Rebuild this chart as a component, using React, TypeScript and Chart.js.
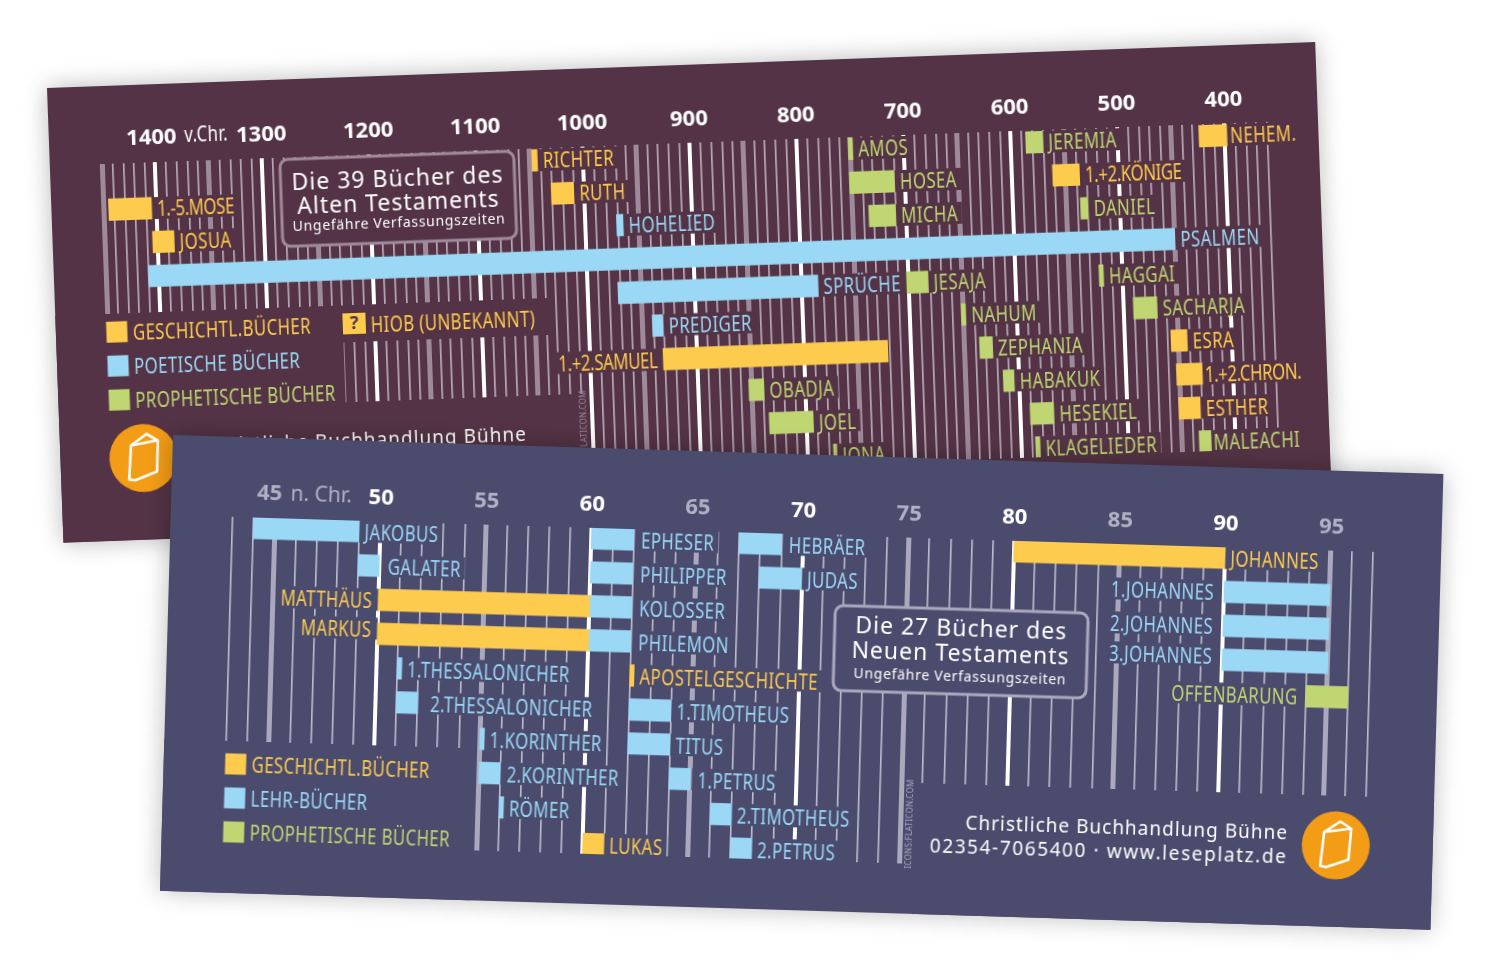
import React, { useEffect, useRef } from "react";
import { Chart, registerables } from "chart.js";

Chart.register(...registerables);

const YELLOW = "#fdcb4e";
const BLUE = "#9ad8f6";
const GREEN = "#bfd672";
const ROUND = '"Noto Sans"';
const KIND_COLORS = [YELLOW, BLUE, GREEN];
const NARROW_FONT = `21px ${ROUND}`;
const NARROW_SCALE = 0.8;

// Old Testament
const otBooks = ["1.-5.MOSE","JOSUA","PSALMEN","RICHTER","RUTH","HOHELIED","SPRÜCHE","PREDIGER","1.+2.SAMUEL","OBADJA","JOEL","JONA","AMOS","HOSEA","MICHA","JESAJA","JEREMIA","1.+2.KÖNIGE","DANIEL","HAGGAI","SACHARJA","ESRA","1.+2.CHRON.","ESTHER","MALEACHI","NEHEM.","NAHUM","ZEPHANIA","HABAKUK","HESEKIEL","KLAGELIEDER"];
const otFrom = [1445,1405,1410,1048,1031,971,972,941,932,853,835,776,752,752,735,702,586,562,537,522,491,457,453,452,434,424,652,636,615,591,587];
const otTo = [1405,1385,450,1043,1010,965,785,931,722,839,794,773,748,710,710,682,570,537,530,518,469,442,429,432,423,398,648,624,605,569,583];
const otRows = [1,2,3,0,1,2,4,5,6,7,8,9,0,1,2,4,0,1,2,4,5,6,7,8,9,0,5,6,7,8,9];
const otKinds = [0,0,1,0,0,1,1,1,0,2,2,2,2,2,2,2,2,0,2,2,2,0,0,0,2,0,2,2,2,2,2];
const otLeftLabels = ["1.+2.SAMUEL"];
const otLeftGaps = [6];
const otLegend = ["GESCHICHTL.BÜCHER","POETISCHE BÜCHER","PROPHETISCHE BÜCHER"];
const otTitle = ["Die 39 Bücher des","Alten Testaments","Ungefähre Verfassungszeiten"];
const otNudge: Record<string, number[]> = { "NEHEM.": [-2, 0], "1.+2.CHRON.": [-3, 0], "MALEACHI": [-3, 0] };

// New Testament
const ntBooks = ["JAKOBUS","GALATER","MATTHÄUS","MARKUS","EPHESER","PHILIPPER","KOLOSSER","PHILEMON","APOSTELGESCHICHTE","1.TIMOTHEUS","TITUS","1.PETRUS","2.TIMOTHEUS","2.PETRUS","LUKAS","HEBRÄER","JUDAS","1.THESSALONICHER","2.THESSALONICHER","1.KORINTHER","2.KORINTHER","RÖMER","JOHANNES","1.JOHANNES","2.JOHANNES","3.JOHANNES","OFFENBARUNG"];
const ntFrom = [44,49,50,50,60,60,60,60,62,62,62,64,66,67,60,67,68,51,51,55,55,56,80,90,90,90,94];
const ntTo = [49,50,60,60,62,62,62,62,62.2,64,64,65,67,68,61,69,70,51.2,52,55.2,56,56.2,90,95,95,95,96];
const ntRows = [0,1,2,3,0,1,2,3,4,5,6,7,8,9,9,0,1,4,5,6,7,8,0,1,2,3,4];
const ntKinds = [1,1,0,0,1,1,1,1,0,1,1,1,1,1,0,1,1,1,1,1,1,1,0,1,1,1,2];
const ntLeftLabels = ["MATTHÄUS","MARKUS","1.JOHANNES","2.JOHANNES","3.JOHANNES","OFFENBARUNG"];
const ntLeftGaps = [6,6,10,10,10,8];
const ntLegend = ["GESCHICHTL.BÜCHER","LEHR-BÜCHER","PROPHETISCHE BÜCHER"];
const ntTitle = ["Die 27 Bücher des","Neuen Testaments","Ungefähre Verfassungszeiten"];
const ntNudge: Record<string, number[]> = { "MARKUS": [0, -5], "3.JOHANNES": [0, -4], "2.THESSALONICHER": [7, 0], "GALATER": [3, 0] , "2.KORINTHER": [1, 0], "EPHESER": [2, 0], "PHILIPPER": [2, 0], "KOLOSSER": [2, 0], "PHILEMON": [2, 0], "HEBRÄER": [2, 0], "1.PETRUS": [2, 0] };

const shopName = "Christliche Buchhandlung Bühne";
const shopContact = "02354-7065400 · www.leseplatz.de";
const creditText = "ICONS:FLATICON.COM";

function text(ctx: any, s: string, x: number, y: number, font: string, color: string, align = "left", spacing = 0) {
  ctx.save();
  ctx.font = font;
  ctx.fillStyle = color;
  ctx.textAlign = align;
  ctx.textBaseline = "middle";
  ctx.letterSpacing = spacing + "px";
  ctx.fillText(s, x, y);
  ctx.restore();
}

const narrowSpacing = (s: string) => (/^\d\.[+-]/.test(s) ? -0.5 : 0.5);

function narrowText(ctx: any, s: string, x: number, y: number, color: string, align = "left") {
  ctx.save();
  ctx.translate(x, y + 2.5);
  ctx.scale(NARROW_SCALE, 1);
  text(ctx, s, 0, 0, NARROW_FONT, color, align, narrowSpacing(s));
  ctx.restore();
}

function narrowWidth(ctx: any, s: string) {
  ctx.save();
  ctx.font = NARROW_FONT;
  ctx.letterSpacing = narrowSpacing(s) + "px";
  const w = ctx.measureText(s).width * NARROW_SCALE;
  ctx.restore();
  return w;
}

function bookIcon(ctx: any, cx: number, cy: number, r: number) {
  ctx.save();
  ctx.beginPath();
  ctx.arc(cx, cy, r, 0, Math.PI * 2);
  ctx.fillStyle = "#f39c16";
  ctx.fill();
  ctx.translate(cx, cy);
  ctx.strokeStyle = "#fff";
  ctx.lineWidth = 2.6;
  ctx.lineJoin = "round";
  ctx.lineCap = "round";
  ctx.beginPath();
  ctx.moveTo(-12, -13);
  ctx.lineTo(4, -24);
  ctx.lineTo(15, -17);
  ctx.lineTo(13, 14);
  ctx.lineTo(-9, 22);
  ctx.lineTo(-15, 21);
  ctx.lineTo(-12, -13);
  ctx.lineTo(14, -17);
  ctx.stroke();
  ctx.restore();
}

function buildChart(canvas: HTMLCanvasElement, c: any) {
  const datasets = c.legend.map((label: string, kind: number) => ({
    label,
    backgroundColor: KIND_COLORS[kind],
    borderWidth: 0,
    borderSkipped: false,
    barThickness: 21.5,
    grouped: false,
    data: c.books
      .map((_: string, i: number) => ({ x: [c.from[i], c.to[i]], y: c.rows[i], k: c.kinds[i] }))
      .filter((d: any) => d.k === kind),
  }));

  const labelBox = (chart: any, i: number) => {
    const xs = chart.scales.x;
    const a = xs.getPixelForValue(c.from[i]);
    const b = xs.getPixelForValue(c.to[i]);
    const li = c.leftLabels.indexOf(c.books[i]);
    const left = li >= 0;
    const w = narrowWidth(chart.ctx, c.books[i]);
    const y = chart.scales.y.getPixelForValue(c.rows[i]);
    const n = c.nudge[c.books[i]] || [0, 0];
    return { left, x: (left ? Math.min(a, b) - c.leftGaps[li] : Math.max(a, b) + 5.5) + n[0], w, y: y + n[1] };
  };

  const plugin = {
    id: "cardDecor",
    beforeDatasetsDraw(chart: any) {
      const ctx = chart.ctx;
      ctx.save();
      ctx.fillStyle = c.bg;
      c.masks.forEach((m: number[]) => ctx.fillRect(m[0], m[1], m[2], m[3]));
      c.books.forEach((_: string, i: number) => {
        const l = labelBox(chart, i);
        ctx.fillRect(l.left ? l.x - l.w - 4 : l.x - 6, l.y - 11, l.w + 10, 22);
      });
      ctx.beginPath();
      ctx.roundRect(c.box[0], c.box[1], c.box[2], c.box[3], 8);
      ctx.fill();
      ctx.lineWidth = 3;
      ctx.strokeStyle = c.mid;
      ctx.stroke();
      ctx.restore();
    },
    afterDatasetsDraw(chart: any) {
      const ctx = chart.ctx;
      c.books.forEach((b: string, i: number) => {
        const l = labelBox(chart, i);
        narrowText(ctx, b, l.x, l.y, KIND_COLORS[c.kinds[i]], l.left ? "right" : "left");
      });
      c.legend.forEach((s: string, i: number) => {
        ctx.fillStyle = KIND_COLORS[i];
        const y = c.legendY + i * 34;
        ctx.fillRect(c.legendX - 10.5, y - 10.5, 21, 21);
        narrowText(ctx, s, c.legendX + 16, y, KIND_COLORS[i]);
      });
      const bx = c.box[0] + c.box[2] / 2;
      text(ctx, c.title[0], bx, c.box[1] + c.titleY[0], `23px ${ROUND}`, "#fff", "center", 1);
      text(ctx, c.title[1], bx, c.box[1] + c.titleY[1], `23px ${ROUND}`, "#fff", "center", 1);
      text(ctx, c.title[2], bx, c.box[1] + c.titleY[2], `14px ${ROUND}`, "#fff", "center", 0.7);
      bookIcon(ctx, c.circle[0], c.circle[1], 34);
      text(ctx, shopName, c.footerX, c.footerY, `19px ${ROUND}`, "#fff", "right", 1);
      c.extra(ctx, chart);
      ctx.save();
      ctx.translate(c.creditX, 366);
      ctx.rotate(-Math.PI / 2);
      text(ctx, creditText, 0, 0, `8px ${ROUND}`, c.mid, "center", 0.3);
      ctx.restore();
    },
  };

  return new Chart(canvas, {
    type: "bar",
    data: { datasets },
    plugins: [plugin],
    options: {
      indexAxis: "y",
      responsive: false,
      animation: false,
      devicePixelRatio: 1,
      events: [],
      layout: { padding: { left: c.padLeft, right: c.padRight, bottom: c.padBottom, top: 0 } },
      plugins: { legend: { display: false }, tooltip: { enabled: false }, title: { display: false } },
      scales: {
        x: {
          type: "linear",
          position: "top",
          reverse: c.reverse,
          min: c.min,
          max: c.max,
          afterFit: (s: any) => { s.height = c.top; },
          border: { display: false },
          grid: {
            drawTicks: false,
            color: (ctx: any) => c.gridColor(ctx.tick ? ctx.tick.value : 0),
            lineWidth: (ctx: any) => c.gridWidth(ctx.tick ? ctx.tick.value : 0),
          },
          ticks: {
            stepSize: c.step,
            maxTicksLimit: 300,
            autoSkip: false,
            maxRotation: 0,
            minRotation: 0,
            padding: 10,
            font: { family: "Noto Sans", weight: "bold", size: 22 },
            color: (ctx: any) => c.tickColor(ctx.tick ? ctx.tick.value : 0),
            callback: (v: number) => c.tickLabel(v),
          },
        },
        y: {
          type: "linear",
          display: false,
          offset: false,
          reverse: true,
          min: c.yMin,
          max: c.yMax,
        },
      },
    },
  } as any);
}

const otConfig = {
  bg: "#533345", mid: "#9f8a9b",
  books: otBooks, from: otFrom, to: otTo, rows: otRows, kinds: otKinds,
  leftLabels: otLeftLabels, leftGaps: otLeftGaps, legend: otLegend, title: otTitle, nudge: otNudge,
  titleY: [24.5, 48, 68],
  reverse: true, min: 360, max: 1450, step: 10,
  top: 78, padLeft: 52, padRight: 51, padBottom: 50,
  yMin: -0.354, yMax: 9.29,
  masks: [[0,228,287,227],[287,228,208,37],[0,325,528,130],[1168,384,101,71]],
  box: [230,80,234,87], legendX: 61, legendY: 246.3, circle: [83,373.3],
  footerX: 467, footerY: 365, creditX: 525,
  gridColor: (v: number) => v % 100 === 0 ? "#ffffff" : v % 50 === 0 ? "#9f8a9b" : "#b8a8b5",
  gridWidth: (v: number) => v % 100 === 0 ? 4 : v % 50 === 0 ? 5 : 1.7,
  tickColor: () => "#ffffff",
  tickLabel: (v: number) => v % 100 === 0 && v < 1400 && v >= 400 ? String(v) : "",
  extra: (ctx: any, chart: any) => {
    const p = chart.scales.x.getPixelForValue(1400);
    text(ctx, "1400", p - 3, 54, `bold 22px ${ROUND}`, "#fff", "center");
    narrowText(ctx, "v.Chr.", p + 30, 51, "#fff");
    // HIOB has no known date: a "?" key beside the legend
    ctx.fillStyle = YELLOW;
    ctx.fillRect(287, 236, 23, 21);
    text(ctx, "?", 298.5, 247, `bold 18px ${ROUND}`, "#533345", "center");
    ctx.save();
    ctx.font = NARROW_FONT;
    ctx.restore();
    narrowText(ctx, "HIOB (UNBEKANNT)", 315, 247.5, YELLOW);
  },
};

const ntConfig = {
  bg: "#4b4b6e", mid: "#a9a8bd",
  books: ntBooks, from: ntFrom, to: ntTo, rows: ntRows, kinds: ntKinds,
  leftLabels: ntLeftLabels, leftGaps: ntLeftGaps, legend: ntLegend, title: ntTitle, nudge: ntNudge,
  titleY: [20, 45.5, 68],
  reverse: false, min: 43, max: 97, step: 1,
  top: 80, padLeft: 62, padRight: 68, padBottom: 50,
  yMin: -0.31, yMax: 9.29,
  masks: [[0,304,310,152],[752,325,519,131]],
  box: [667,150,253,85], legendX: 72, legendY: 327, circle: [1174,374.5],
  footerX: 1126, footerY: 364.5, creditX: 748,
  gridColor: (v: number) => v % 10 === 0 ? "#ffffff" : v % 5 === 0 ? "#a9a8bd" : "#bdbdcd",
  gridWidth: (v: number) => v % 10 === 0 ? 4 : v % 5 === 0 ? 5 : 1.6,
  tickColor: (v: number) => v % 10 === 0 ? "#ffffff" : "#b1b0c4",
  tickLabel: (v: number) => v % 5 === 0 && v > 45 ? String(v) : "",
  extra: (ctx: any, chart: any) => {
    const p = chart.scales.x.getPixelForValue(45);
    text(ctx, "45", p - 6, 56, `bold 22px ${ROUND}`, "#b1b0c4", "center");
    text(ctx, "n. Chr.", p + 15, 56, `21px ${ROUND}`, "#b1b0c4", "left");
    text(ctx, shopContact, 1126, 388.5, `19px ${ROUND}`, "#fff", "right", 1.6);
  },
};

const cardStyle = (left: number, top: number, w: number, h: number, matrix: string, bg: string): React.CSSProperties => ({
  position: "absolute", left, top, width: w, height: h, background: bg,
  transform: matrix, transformOrigin: "0 0",
  boxShadow: "0 0 24px rgba(0,0,0,0.28)",
});

export default function App() {
  const a = useRef<HTMLCanvasElement>(null);
  const b = useRef<HTMLCanvasElement>(null);
  useEffect(() => {
    const c1 = buildChart(a.current!, otConfig);
    const c2 = buildChart(b.current!, ntConfig);
    return () => { c1.destroy(); c2.destroy(); };
  }, []);
  return (
    <div style={{ position: "absolute", left: 0, top: 0, width: 1500, height: 977, overflow: "hidden", background: "#fff" }}>
      <div style={cardStyle(47, 88, 1269, 455, "rotate(-2.077deg)", otConfig.bg)}>
        <canvas ref={a} width={1269} height={455} style={{ display: "block" }} />
      </div>
      <div style={cardStyle(173, 435, 1271, 456, "matrix(0.99953,0.03066,-0.0285,0.9996,0,0)", ntConfig.bg)}>
        <canvas ref={b} width={1271} height={456} style={{ display: "block" }} />
      </div>
    </div>
  );
}
